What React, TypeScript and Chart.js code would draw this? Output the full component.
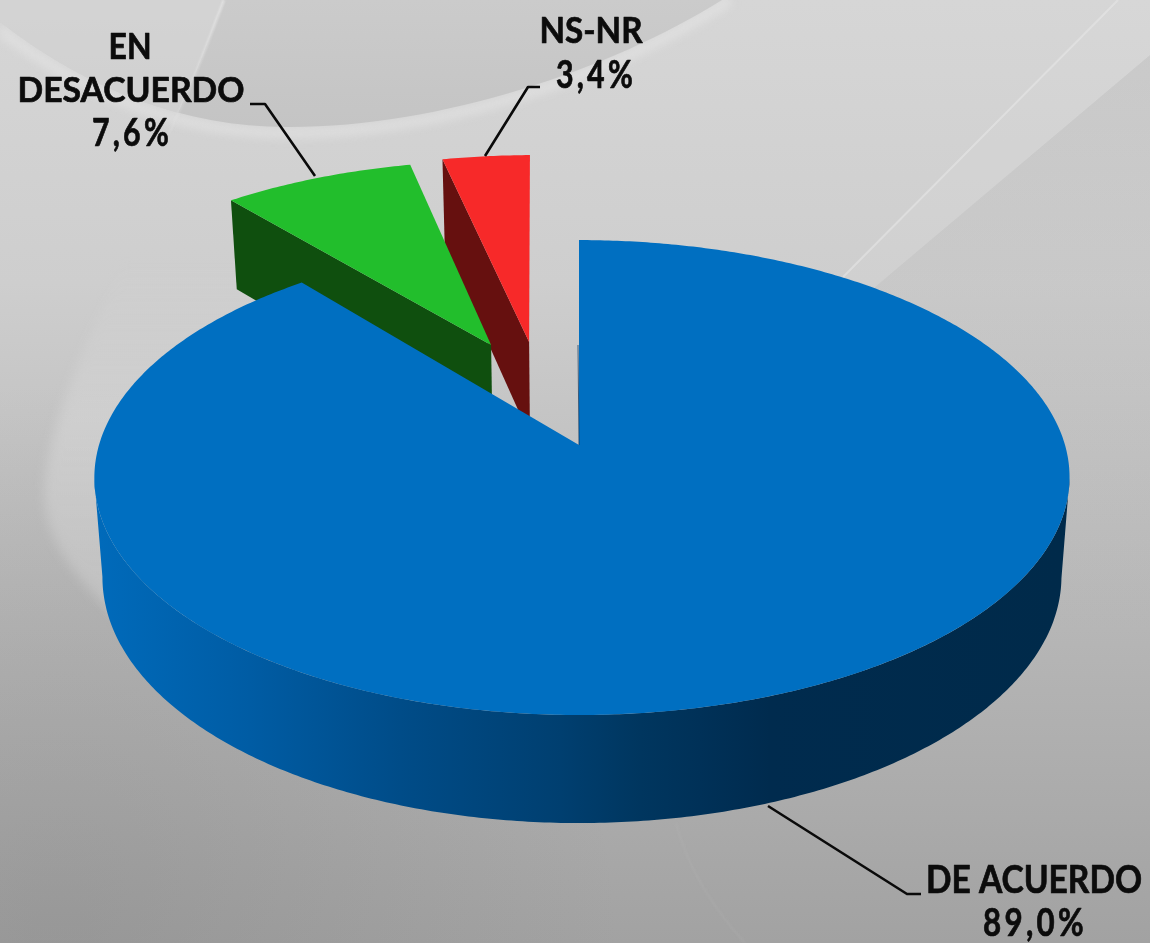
import React, { useEffect, useRef } from "react";
import { Chart, registerables } from "chart.js";

Chart.register(...registerables);

const categories = ["DE ACUERDO", "EN DESACUERDO", "NS-NR"];
const shares = [89.0, 7.6, 3.4];
const topColors = ["#006FC1", "#22BE2C", "#F72929"];
const faceColors = ["#003A66", "#0F4F0E", "#66100F"];

// perspective model of the disc
const K = -0.137;
const CX = 579;
const TOP = { a: 233, b: 483, cy: 445 };
const BOT = { a: 241.7, b: 475, cy: 543 };
const project = (X: number, Y: number, p: { a: number; b: number; cy: number }) => {
  const d = 1 + K * Y;
  return [CX + (p.b * X) / d + 3 * X * X, p.cy + (p.a * Y) / d];
};
const SLICE_VIEW = [
  { ox: 0, oy: 0, r: 1, nudge: 0 },
  { ox: -0.1936, oy: -0.456, r: 1.01, nudge: -0.0122 },
  { ox: -0.11, oy: -0.47, r: 1.03, nudge: -0.0122 },
];

const LABEL_FONT = 'Lato, "Noto Sans", sans-serif';
const LABEL_LINES = [
  { text: "EN", cx: 130, base: 59, w: 43, size: 36, gap: 0 },
  { text: "DESACUERDO", cx: 131, base: 102, w: 227, size: 35, gap: 0 },
  { text: "value1", cx: 132, base: 146, w: 80, size: 38, gap: 4 },
  { text: "NS-NR", cx: 591, base: 43, w: 103, size: 36, gap: 0 },
  { text: "value2", cx: 596, base: 88, w: 80, size: 38, gap: 4 },
  { text: "DE ACUERDO", cx: 1034, base: 893, w: 216, size: 38, gap: 0 },
  { text: "value0", cx: 1035, base: 936, w: 104, size: 38, gap: 4 },
];
const LEADERS = [
  [[250, 104], [265, 104], [315, 176]],
  [[540, 87], [528, 87], [485, 156]],
  [[768, 806], [907, 894], [921, 894]],
];

const fmt = (v: number) => v.toFixed(1).replace(".", ",") + "%";

function drawBackground(ctx: CanvasRenderingContext2D, W: number, H: number) {
  const base = ctx.createLinearGradient(0, 0, 0, H);
  base.addColorStop(0, "#d6d6d6");
  base.addColorStop(0.3, "#cecece");
  base.addColorStop(0.65, "#b7b7b7");
  base.addColorStop(1, "#a2a2a2");
  ctx.fillStyle = base;
  ctx.fillRect(0, 0, W, H);

  // darkening toward the bottom-left corner
  const corner = ctx.createRadialGradient(60, 943, 30, 60, 943, 560);
  corner.addColorStop(0, "rgba(120,120,120,0.25)");
  corner.addColorStop(1, "rgba(120,120,120,0)");
  ctx.fillStyle = corner;
  ctx.fillRect(0, 0, W, H);

  const lensPath = () => {
    ctx.beginPath();
    ctx.moveTo(0, 22);
    ctx.bezierCurveTo(90, 92, 190, 128, 290, 127);
    ctx.bezierCurveTo(440, 127, 610, 70, 722, 0);
    ctx.lineTo(0, 0);
    ctx.closePath();
  };

  // soft light rim under the lens
  ctx.save();
  ctx.filter = "blur(5px)";
  ctx.beginPath();
  ctx.moveTo(0, 30);
  ctx.bezierCurveTo(90, 100, 190, 134, 290, 133);
  ctx.bezierCurveTo(440, 133, 610, 78, 730, 0);
  ctx.strokeStyle = "rgba(238,238,238,0.45)";
  ctx.lineWidth = 10;
  ctx.stroke();
  ctx.restore();

  // the lens itself
  lensPath();
  const lens = ctx.createLinearGradient(0, 0, 0, 128);
  lens.addColorStop(0, "#cbcbcb");
  lens.addColorStop(1, "#c4c4c4");
  ctx.fillStyle = lens;
  ctx.fill();

  // lens part left of the streak is lighter
  ctx.save();
  lensPath();
  ctx.clip();
  ctx.beginPath();
  ctx.moveTo(0, 0);
  ctx.lineTo(224, 0);
  ctx.bezierCurveTo(205, 50, 190, 90, 170, 130);
  ctx.lineTo(0, 130);
  ctx.closePath();
  ctx.fillStyle = "rgba(222,222,222,0.45)";
  ctx.fill();
  ctx.restore();

  // left thin streak
  ctx.save();
  ctx.filter = "blur(1px)";
  ctx.beginPath();
  ctx.moveTo(224, 0);
  ctx.bezierCurveTo(205, 50, 190, 90, 168, 135);
  const fade = ctx.createLinearGradient(0, 0, 0, 135);
  fade.addColorStop(0, "rgba(240,240,240,0.7)");
  fade.addColorStop(1, "rgba(240,240,240,0.15)");
  ctx.strokeStyle = fade;
  ctx.lineWidth = 2;
  ctx.stroke();
  ctx.restore();

  // light swoosh at the lower left
  ctx.save();
  ctx.filter = "blur(6px)";
  ctx.beginPath();
  ctx.moveTo(125, 260);
  ctx.bezierCurveTo(85, 340, 52, 420, 45, 480);
  ctx.bezierCurveTo(40, 530, 65, 570, 125, 625);
  ctx.lineTo(300, 620);
  ctx.lineTo(300, 260);
  ctx.closePath();
  const swoosh = ctx.createLinearGradient(0, 260, 0, 620);
  swoosh.addColorStop(0, "rgba(226,226,226,0)");
  swoosh.addColorStop(0.45, "rgba(226,226,226,0.38)");
  swoosh.addColorStop(1, "rgba(226,226,226,0.3)");
  ctx.fillStyle = swoosh;
  ctx.fill();
  ctx.restore();

  // right region under the streaks, slightly darker
  ctx.beginPath();
  ctx.moveTo(W, 55);
  ctx.lineTo(875, 287);
  ctx.lineTo(875, 640);
  ctx.lineTo(W, 640);
  ctx.closePath();
  const right = ctx.createLinearGradient(0, 60, 0, 640);
  right.addColorStop(0, "rgba(165,165,165,0.22)");
  right.addColorStop(1, "rgba(165,165,165,0)");
  ctx.fillStyle = right;
  ctx.fill();

  // light band between the two streaks
  ctx.beginPath();
  ctx.moveTo(1118, 0);
  ctx.lineTo(843, 277);
  ctx.lineTo(875, 287);
  ctx.lineTo(W, 55);
  ctx.lineTo(W, 0);
  ctx.closePath();
  ctx.fillStyle = "rgba(225,225,225,0.13)";
  ctx.fill();
  ctx.save();
  ctx.filter = "blur(0.7px)";
  ctx.beginPath();
  ctx.moveTo(1118, 0);
  ctx.lineTo(843, 277);
  ctx.strokeStyle = "rgba(232,232,232,0.55)";
  ctx.lineWidth = 2;
  ctx.stroke();
  ctx.restore();

  // faint arc at the bottom
  ctx.save();
  ctx.filter = "blur(1px)";
  ctx.beginPath();
  ctx.moveTo(676, 823);
  ctx.quadraticCurveTo(692, 885, 745, 943);
  ctx.strokeStyle = "rgba(190,190,190,0.22)";
  ctx.lineWidth = 1.5;
  ctx.stroke();
  ctx.restore();
}

const pieDrawPlugin = {
  id: "perspectivePie",
  beforeDraw(chart: any) {
    drawBackground(chart.ctx, chart.width, chart.height);
  },
  beforeDatasetDraw(chart: any, args: any) {
    const ctx: CanvasRenderingContext2D = chart.ctx;
    const arcs = chart.getDatasetMeta(args.index).data;
    const geom = arcs.map((arc: any, i: number) => {
      const view = SLICE_VIEW[i];
      const s = arc.startAngle + Math.PI / 2 + view.nudge;
      const e = arc.endAngle + Math.PI / 2 + view.nudge;
      const at = (t: number, p: any) =>
        project(view.ox + view.r * Math.sin(t), view.oy - view.r * Math.cos(t), p);
      const apex = (p: any) => project(view.ox, view.oy, p);
      return { s, e, at, apex };
    });
    const poly = (pts: number[][], fill: any) => {
      ctx.beginPath();
      pts.forEach((p, n) => (n ? ctx.lineTo(p[0], p[1]) : ctx.moveTo(p[0], p[1])));
      ctx.closePath();
      ctx.fillStyle = fill;
      ctx.fill();
    };
    const topFace = (g: any) => {
      const pts = [g.apex(TOP)];
      const steps = Math.ceil((g.e - g.s) / 0.01);
      for (let n = 0; n <= steps; n++) pts.push(g.at(g.s + ((g.e - g.s) * n) / steps, TOP));
      return pts;
    };
    const [blue, green, red] = geom;
    poly([red.apex(TOP), red.at(red.s, TOP), red.at(red.s, BOT), red.apex(BOT)], faceColors[2]);
    poly(topFace(red), topColors[2]);
    poly([green.apex(TOP), green.at(green.s, TOP), green.at(green.s, BOT), green.apex(BOT)], faceColors[1]);
    poly(topFace(green), topColors[1]);

    // large wedge: wall between the tangent lines of both rims
    const rim: number[][] = [];
    const from = (97.9 * Math.PI) / 180;
    const to = (262.1 * Math.PI) / 180;
    for (let t = from; t <= to; t += 0.01) rim.push(blue.at(t, TOP));
    for (let t = to; t >= from; t -= 0.01) rim.push(blue.at(t, BOT));
    const band = ctx.createLinearGradient(100, 0, 1060, 0);
    band.addColorStop(0, "#006ABA");
    band.addColorStop(0.156, "#005CA4");
    band.addColorStop(0.313, "#004C88");
    band.addColorStop(0.48, "#003F70");
    band.addColorStop(0.563, "#00365F");
    band.addColorStop(0.625, "#003158");
    band.addColorStop(0.698, "#002B4E");
    band.addColorStop(1, "#002A4A");
    poly(rim, band);
    poly(topFace(blue), topColors[0]);

    // thin dark edge on the vertical cut
    const a = blue.apex(TOP);
    ctx.beginPath();
    ctx.moveTo(a[0], a[1]);
    ctx.lineTo(a[0] - 1, a[1] - 100);
    ctx.strokeStyle = "rgba(0,45,90,0.7)";
    ctx.lineWidth = 1;
    ctx.stroke();
    return false;
  },
  afterDraw(chart: any) {
    const ctx: CanvasRenderingContext2D = chart.ctx;
    ctx.strokeStyle = "#0a0a0a";
    ctx.lineWidth = 2.6;
    ctx.lineJoin = "round";
    LEADERS.forEach((seg) => {
      ctx.beginPath();
      seg.forEach((p, n) => (n ? ctx.lineTo(p[0], p[1]) : ctx.moveTo(p[0], p[1])));
      ctx.stroke();
    });
    ctx.fillStyle = "#0c0c0c";
    ctx.strokeStyle = "#0c0c0c";
    ctx.lineWidth = 0.7;
    ctx.textAlign = "center";
    ctx.textBaseline = "alphabetic";
    LABEL_LINES.forEach((l) => {
      const text = l.text.startsWith("value") ? fmt(shares[Number(l.text.slice(5))]) : l.text;
      ctx.font = `bold ${l.size}px ${LABEL_FONT}`;
      (ctx as any).letterSpacing = `${l.gap}px`;
      const natural = ctx.measureText(text).width;
      ctx.save();
      ctx.translate(l.cx, l.base);
      ctx.scale(l.w / natural, 1);
      ctx.fillText(text, 0, 0);
      ctx.strokeText(text, 0, 0);
      ctx.restore();
    });
  },
};

export default function App() {
  const ref = useRef<HTMLCanvasElement>(null);
  useEffect(() => {
    document.body.style.margin = "0";
    const chart = new Chart(ref.current!, {
      type: "pie",
      data: {
        labels: categories,
        datasets: [{ data: shares, backgroundColor: topColors, borderWidth: 0 }],
      },
      options: {
        animation: false,
        responsive: false,
        rotation: 0,
        plugins: { legend: { display: false }, tooltip: { enabled: false } },
      },
      plugins: [pieDrawPlugin],
    } as any);
    return () => chart.destroy();
  }, []);
  return <canvas ref={ref} width={1150} height={943} style={{ display: "block" }} />;
}
